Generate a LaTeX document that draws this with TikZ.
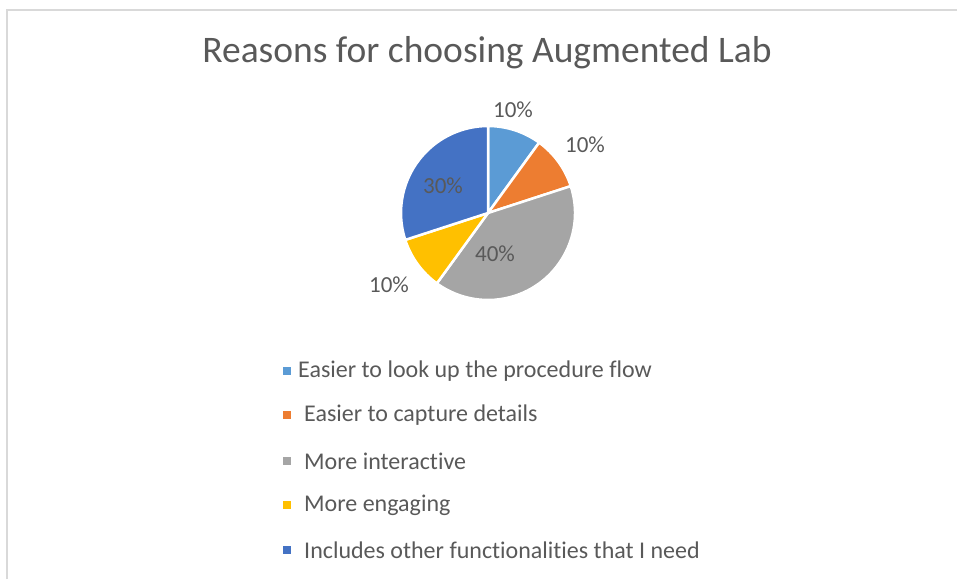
\documentclass[tikz,border=0pt]{standalone}
\usepackage{fontspec}
\setmainfont{Carlito}[Ligatures={NoCommon}]
\definecolor{sA}{HTML}{5B9BD5}
\definecolor{sB}{HTML}{ED7D31}
\definecolor{sC}{HTML}{A5A5A5}
\definecolor{sD}{HTML}{FFC000}
\definecolor{sE}{HTML}{4472C4}
\definecolor{txt}{HTML}{595959}
\definecolor{frame}{HTML}{D9D9D9}
\tikzset{
  slice/.style={draw=white, line width=2.5pt, line join=round},
  pct/.style={text=txt, font=\fontsize{23}{26}\selectfont, inner sep=0pt},
  legtxt/.style={text=txt, font=\fontsize{24}{28}\selectfont, anchor=west, inner sep=0pt},
  legmark/.style={minimum size=8pt, inner sep=0pt}
}
\begin{document}
\begin{tikzpicture}[x=1pt,y=-1pt]
\useasboundingbox (0,0) rectangle (957,579);
\draw[frame, line width=1.5pt] (7,579) -- (7,10) -- (957,10);
\node[text=txt, font=\fontsize{37.5}{42}\selectfont, inner sep=0pt] (title) at (487,53) {Reasons for choosing Augmented Lab};
% pie
\coordinate (c) at (488,213);
\def\R{87}
\draw[slice, fill=sA] (c) -- +(0,-\R) arc[start angle=-90, end angle=-54, radius=\R] -- cycle;
\draw[slice, fill=sB] (c) -- +({\R*cos(54)},{-\R*sin(54)}) arc[start angle=-54, end angle=-18, radius=\R] -- cycle;
\draw[slice, fill=sC] (c) -- +({\R*cos(18)},{-\R*sin(18)}) arc[start angle=-18, end angle=126, radius=\R] -- cycle;
\draw[slice, fill=sD] (c) -- +({\R*cos(-126)},{-\R*sin(-126)}) arc[start angle=126, end angle=162, radius=\R] -- cycle;
\draw[slice, fill=sE] (c) -- +({\R*cos(-162)},{-\R*sin(-162)}) arc[start angle=162, end angle=270, radius=\R] -- cycle;
% labels
\node[pct] (l1) at (513,110) {10\%};
\node[pct] (l2) at (585,145) {10\%};
\node[pct] (l3) at (495,254) {40\%};
\node[pct] (l4) at (389,285) {10\%};
\node[pct] (l5) at (443,186) {30\%};
% legend
\node[legmark, fill=sA] (m1) at (287,371) {};
\node[legtxt] (t1) at (298,371) {Easier to look up the procedure flow};
\node[legmark, fill=sB] (m2) at (287,415) {};
\node[legtxt] (t2) at (304,415) {Easier to capture details};
\node[legmark, fill=sC] (m3) at (287,461) {};
\node[legtxt] (t3) at (304,461) {More interactive};
\node[legmark, fill=sD] (m4) at (287,505) {};
\node[legtxt] (t4) at (304,505) {More engaging};
\node[legmark, fill=sE] (m5) at (287,550) {};
\node[legtxt] (t5) at (304,550) {Includes other functionalities that I need};
\end{tikzpicture}
\end{document}
